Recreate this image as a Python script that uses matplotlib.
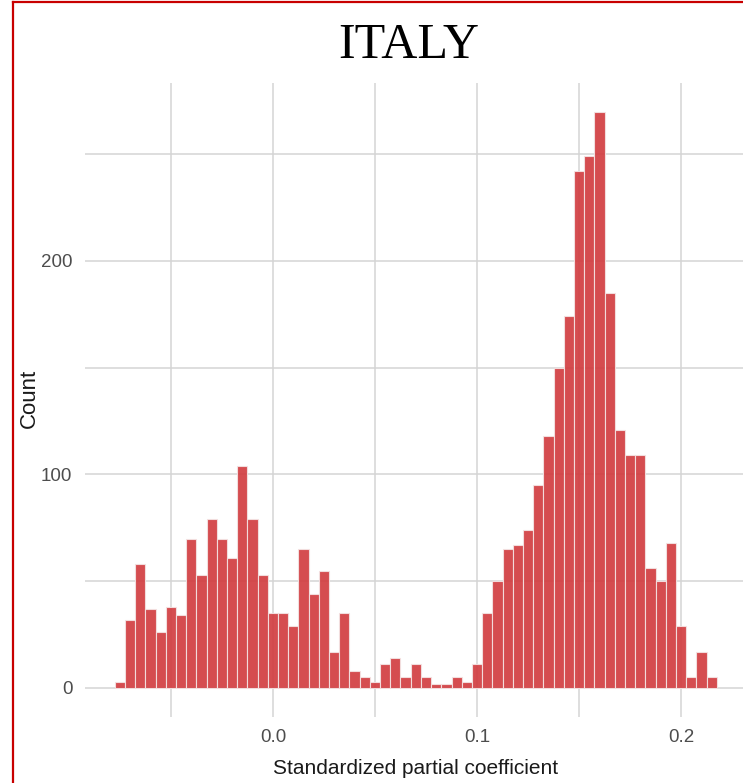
import matplotlib
matplotlib.use("Agg")
import matplotlib.pyplot as plt
import numpy as np
from matplotlib import font_manager

# ---- data ----
bin_start = -0.0775
bin_width = 0.005
counts = [3, 32, 58, 37, 26, 38, 34, 70, 53, 79,
          70, 61, 104, 79, 53, 35, 35, 29, 65, 44,
          55, 17, 35, 8, 5, 3, 11, 14, 5, 11,
          5, 2, 2, 5, 3, 11, 35, 50, 65, 67,
          74, 95, 118, 150, 174, 242, 249, 270, 185, 121,
          109, 109, 56, 50, 68, 29, 5, 17, 5]
x_ticks = [0.0, 0.1, 0.2]
x_tick_labels = ["0.0", "0.1", "0.2"]
y_ticks = [0, 100, 200]
y_tick_labels = ["0", "100", "200"]
title = "ITALY"
xlabel = "Standardized partial coefficient"
ylabel = "Count"

avail = {f.name for f in font_manager.fontManager.ttflist}
sans = ["Liberation Sans Narrow", "DejaVu Sans"] if "Liberation Sans Narrow" in avail else ["Liberation Sans", "DejaVu Sans"]

W, H = 743, 783
fig = plt.figure(figsize=(W / 100, H / 100), dpi=100)

left_px, right_px = 84.8, 746.8
top_px, bot_px = 82.7, 716.8
ax = fig.add_axes([left_px / W, 1 - bot_px / H, (right_px - left_px) / W, (bot_px - top_px) / H])

edges = bin_start + bin_width * np.arange(len(counts) + 1)
ax.hist(edges[:-1], bins=edges, weights=counts, color="#d13a3d", alpha=0.9,
        edgecolor="#f4e4e4", linewidth=0.8, zorder=3)

xmin, xmax = edges[0], edges[-1]
rng = xmax - xmin
ax.set_xlim(xmin - 0.05 * rng, xmax + 0.05 * rng)
ymax = max(counts)
ax.set_ylim(-0.05 * ymax, ymax * 1.05)

for s in ax.spines.values():
    s.set_visible(False)

ax.set_xticks(x_ticks)
ax.set_xticklabels(x_tick_labels)
ax.set_yticks(y_ticks)
ax.set_yticklabels(y_tick_labels)
ax.set_xticks([-0.05, 0.05, 0.15], minor=True)
ax.set_yticks([50, 150, 250], minor=True)
ax.tick_params(which="both", length=0)
ax.tick_params(axis="both", labelsize=13.5, labelcolor="#4d4d4d")
ax.tick_params(axis="y", pad=9)
ax.tick_params(axis="x", pad=9)
for lab in ax.get_xticklabels() + ax.get_yticklabels():
    lab.set_family(sans)
ax.grid(True, which="both", color="#d4d4d4", linewidth=1.1, zorder=0)
ax.set_axisbelow(True)

ax.set_xlabel(xlabel, family=sans, fontsize=15, color="#1a1a1a", labelpad=9)
ax.set_ylabel(ylabel, family=sans, fontsize=16, color="#1a1a1a")
ax.yaxis.set_label_coords((40 - left_px) / (right_px - left_px), (bot_px - 398) / (bot_px - top_px))

fig.text(409 / W, 1 - 46 / H, title, ha="center", va="center",
         family=["Liberation Serif", "DejaVu Serif"], fontsize=36, color="black")

# red frame (left and top)
fig.add_artist(plt.Line2D([13 / W, 13 / W], [0, 1 - 2 / H], color="#c80000", linewidth=1.6,
                          transform=fig.transFigure))
fig.add_artist(plt.Line2D([13 / W, 1], [1 - 2 / H, 1 - 2 / H], color="#c80000", linewidth=1.6,
                          transform=fig.transFigure))

fig.savefig("out.png", dpi=100)
